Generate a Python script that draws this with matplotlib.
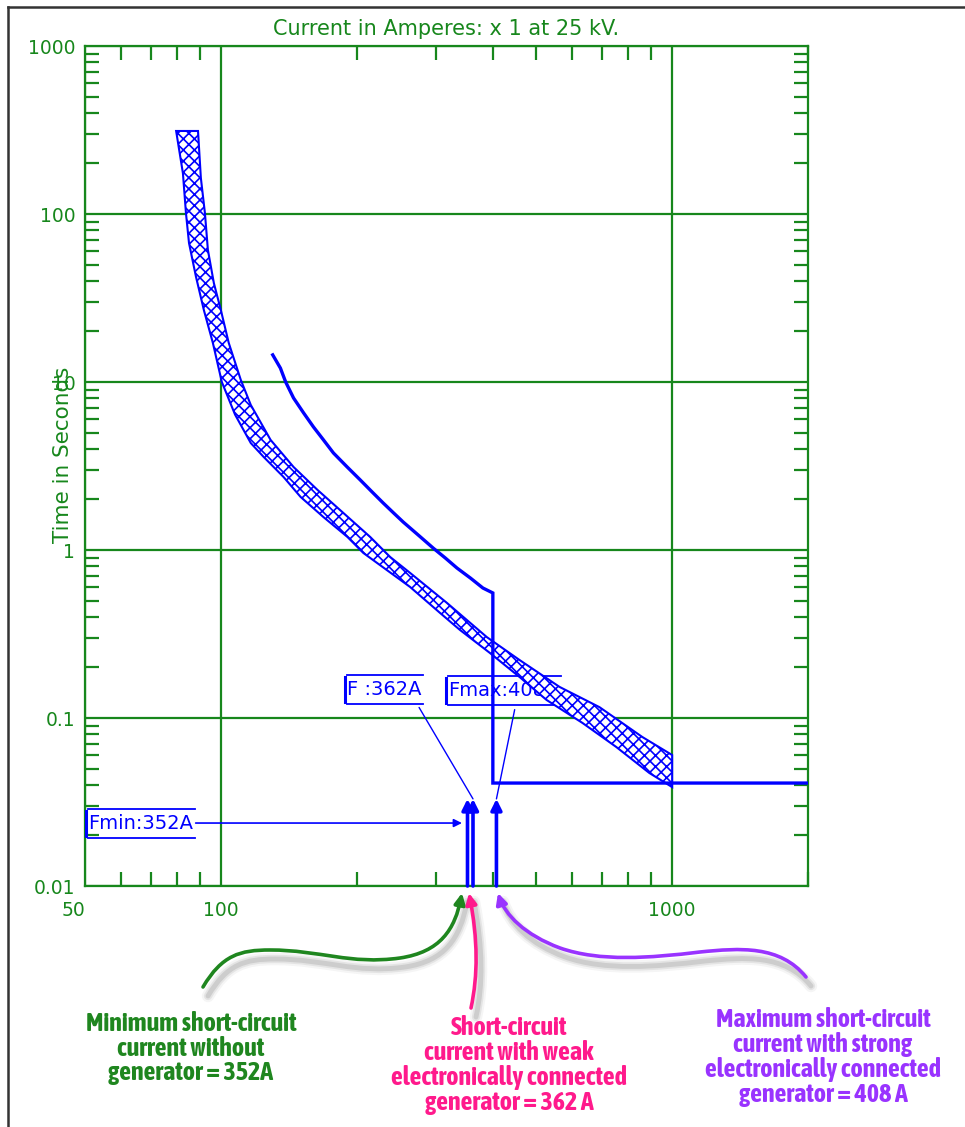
import numpy as np
import matplotlib
matplotlib.use('Agg')
import matplotlib.pyplot as plt
from matplotlib import font_manager as fm
from matplotlib.text import Text
from matplotlib.path import Path
from matplotlib.patches import FancyArrowPatch, Polygon, PathPatch
from matplotlib.lines import Line2D
from matplotlib.ticker import LogLocator, FixedLocator, FixedFormatter, NullFormatter

# Fuse band, upper (total clearing) edge: current [A], time [s]
band_upper_amps = [89, 90.3, 92.2, 93.6, 96.5, 100, 104.1, 110.7, 116.5, 128.9, 144.9, 163.7,
                   186.9, 214.3, 237.3, 262.7, 317, 388.5, 459.5, 563.3, 690.3, 858.7, 1000]
band_upper_secs = [312, 164, 101, 61.1, 38.8, 26.8, 17.1, 10.3, 7.3, 4.52, 3.12, 2.28,
                   1.66, 1.195, 0.908, 0.730, 0.484, 0.303, 0.221, 0.153, 0.116, 0.0771, 0.0602]

# Fuse band, lower (minimum melt) edge
band_lower_amps = [79.6, 82.4, 83.7, 85.0, 88.1, 91.7, 96.0, 100.5, 107.5, 116.5, 124.4, 137.7,
                   150.2, 168.8, 190.8, 206.9, 262.7, 306, 338.8, 394.5, 459.5, 527, 633, 752,
                   889.8, 1000]
band_lower_secs = [312, 175, 101, 67.2, 42.2, 26.8, 17.1, 10.0, 6.4, 4.33, 3.58, 2.72,
                   2.07, 1.57, 1.195, 0.96, 0.602, 0.422, 0.334, 0.244, 0.175, 0.128, 0.0934,
                   0.0672, 0.0471, 0.0388]

# Recloser / relay curve
rec_amps = [130.3, 135.5, 139.2, 144.9, 152.5, 160.4, 168.5, 177.6, 190.5, 203.7, 216.2,
            228.9, 241.5, 253.5, 274.5, 295.3, 314.5, 333.6, 357.5, 380.7, 400.6, 400.6, 2000]
rec_secs = [14.5, 12.1, 10.0, 8.03, 6.55, 5.40, 4.55, 3.78, 3.12, 2.61, 2.22,
            1.905, 1.66, 1.468, 1.22, 1.028, 0.895, 0.781, 0.68, 0.594, 0.555, 0.041, 0.041]

# Fault currents
fault_labels = ['Fmin:352A', 'F :362A', 'Fmax:408A']
fault_amps = [352, 362, 408]
fault_arrow_top = 0.033
fmin_arrow_time = 0.0237

# Axis ticks
x_ticks = [50, 100, 1000]
x_ticklabels = ['50', '100', '1000']
y_ticks = [0.01, 0.1, 1, 10, 100, 1000]
y_ticklabels = ['0.01', '0.1', '1', '10', '100', '1000']

# Notes under the chart
note_texts = ['Minimum short-circuit\ncurrent without\ngenerator = 352A',
              'Short-circuit\ncurrent with weak\nelectronically connected\ngenerator = 362 A',
              'Maximum short-circuit\ncurrent with strong\nelectronically connected\ngenerator = 408 A']
note_colors = ['#1f861f', '#ff1a8c', '#9933ff']

GREEN = '#17871c'
BLUE = '#0000ff'
W, H = 965, 1127

fig = plt.figure(figsize=(W / 100, H / 100), dpi=100)
fig.patch.set_facecolor('white')


def px(x, y):
    # pixel coords (y down) -> figure fraction
    return x / W, 1 - y / H


ax = fig.add_axes([85 / W, 1 - 886 / H, (808 - 85) / W, (886 - 46) / H])
ax.set_xscale('log')
ax.set_yscale('log')
ax.set_xlim(50, 2000)
ax.set_ylim(0.01, 1000)

for s in ax.spines.values():
    s.set_color(GREEN)
    s.set_linewidth(1.6)

ax.xaxis.set_major_locator(FixedLocator(x_ticks))
ax.xaxis.set_major_formatter(FixedFormatter(x_ticklabels))
ax.yaxis.set_major_locator(FixedLocator(y_ticks))
ax.yaxis.set_major_formatter(FixedFormatter(y_ticklabels))
ax.xaxis.set_minor_locator(LogLocator(base=10, subs=np.arange(2, 10)))
ax.yaxis.set_minor_locator(LogLocator(base=10, subs=np.arange(2, 10)))
ax.xaxis.set_minor_formatter(NullFormatter())
ax.yaxis.set_minor_formatter(NullFormatter())

ax.tick_params(which='both', direction='in', top=True, right=True, color=GREEN,
               labelcolor=GREEN, labelsize=13.5)
ax.tick_params(which='minor', length=10, width=1.6)
ax.tick_params(which='major', length=0)
ax.tick_params(axis='y', pad=7)
ax.tick_params(axis='x', pad=11)
ax.grid(which='major', color=GREEN, lw=1.6)
ax.set_axisbelow(True)
# the "50" label sits a bit left of the axis corner
ax.get_xticklabels()[0].set_horizontalalignment('right')

ax.text(0.5, (886 - 29) / 840, 'Current in Amperes: x 1 at 25 kV.', transform=ax.transAxes,
        ha='center', va='center', color=GREEN, fontsize=15)
fig.text(*px(63, 455), 'Time in Seconds', rotation=90, ha='center', va='center',
         color=GREEN, fontsize=15.5)

# fuse band
band_x = band_upper_amps + band_lower_amps[::-1]
band_y = band_upper_secs + band_lower_secs[::-1]
plt.rcParams['hatch.linewidth'] = 1.2
band = Polygon(np.column_stack([band_x, band_y]), closed=True, facecolor='white',
               edgecolor=BLUE, hatch='xxx', lw=1.5, zorder=4)
ax.add_patch(band)

# recloser curve
ax.plot(rec_amps, rec_secs, color=BLUE, lw=2.4, zorder=5, solid_joinstyle='miter')

# fault arrows
for amps in fault_amps:
    ax.annotate('', xy=(amps, fault_arrow_top), xytext=(amps, 0.01),
                arrowprops=dict(arrowstyle='-|>', color=BLUE, lw=2.6, mutation_scale=16,
                                shrinkA=0, shrinkB=0), zorder=5)

# labels with leaders
label_font = dict(fontsize=14, color=BLUE, family='DejaVu Sans')
t_min = ax.annotate(fault_labels[0], xy=(fault_amps[0], fmin_arrow_time),
                    xytext=(0.004, fmin_arrow_time), textcoords=('axes fraction', 'data'),
                    ha='left', va='center', zorder=3, **label_font,
                    arrowprops=dict(arrowstyle='-|>', color=BLUE, lw=1.2, mutation_scale=12,
                                    shrinkA=0, shrinkB=4, relpos=(1, 0.5)))
t_mid = ax.annotate(fault_labels[1], xy=(fault_amps[1], fault_arrow_top),
                    xytext=(-64, 79), textcoords='offset points',
                    ha='center', va='center', zorder=3, **label_font,
                    arrowprops=dict(arrowstyle='-', color=BLUE, lw=1.0,
                                    shrinkA=5, shrinkB=0, relpos=(0.9, 0)))
t_max = ax.annotate(fault_labels[2], xy=(fault_amps[2], fault_arrow_top),
                    xytext=(5, 78), textcoords='offset points',
                    ha='center', va='center', zorder=3, **label_font,
                    arrowprops=dict(arrowstyle='-', color=BLUE, lw=1.0,
                                    shrinkA=5, shrinkB=0, relpos=(0.62, 0)))

fig.canvas.draw()
renderer = fig.canvas.get_renderer()
inv = ax.transAxes.inverted()
for t in [t_min, t_mid, t_max]:
    bb = Text.get_window_extent(t, renderer)
    x0, x1 = bb.x0, bb.x1 + 2
    y0, y1 = bb.y0 - 5, bb.y1 + 5
    for xs, ys, lw in [([x0, x1], [y1, y1], 1.3), ([x0, x1], [y0, y0], 1.3),
                       ([x0 - 2, x0 - 2], [y0 + 2, y1 - 2], 2.2)]:
        pts = inv.transform(np.column_stack([xs, ys]))
        ax.add_line(Line2D(pts[:, 0], pts[:, 1], transform=ax.transAxes, color=BLUE,
                           lw=lw, zorder=3, clip_on=False))

# curved callouts below the chart
curves = [
    ([(203, 987), (222, 955), (240, 950), (270, 950), (320, 950), (350, 965), (400, 958),
      (440, 952), (455, 930), (462, 893)], note_colors[0]),
    ([(471, 1008), (478, 975), (478, 940), (469, 893)], note_colors[1]),
    ([(806, 977), (780, 945), (740, 948), (700, 952), (650, 958), (600, 962), (560, 948),
      (525, 935), (505, 915), (498, 893)], note_colors[2]),
]
for pts, col in curves:
    codes = [Path.MOVETO] + [Path.CURVE4] * (len(pts) - 1)
    for lw, a in [(9, 0.06), (6, 0.10), (3.5, 0.16)]:
        sh = Path([px(x + 5, y + 9) for x, y in pts], codes)
        fig.add_artist(PathPatch(sh, transform=fig.transFigure, fill=False,
                                 edgecolor='#555555', lw=lw, alpha=a, capstyle='round'))
    path = Path([px(x, y) for x, y in pts], codes)
    fig.add_artist(FancyArrowPatch(path=path, transform=fig.transFigure, arrowstyle='-|>',
                                   mutation_scale=16, lw=2.6, color=col,
                                   shrinkA=0, shrinkB=0))


# pick a narrow bold face for the notes
def weight_num(w):
    return w if isinstance(w, int) else fm.weight_dict.get(w, 400)


narrow = [f for f in fm.fontManager.ttflist if 'Narrow' in f.name or 'Condensed' in f.name]
narrow_bold = [f for f in narrow if weight_num(f.weight) >= 600]
if narrow_bold:
    note_font = dict(family=sorted(f.name for f in narrow_bold)[0], fontweight='bold')
elif narrow:
    note_font = dict(family=sorted(f.name for f in narrow)[0], fontweight='bold')
else:
    note_font = dict(family='Roboto', fontweight='bold')

# widest line widths in the reference, pixels
note_widths = [238, 272, 274]
note_centres = [(191, 1048), (509, 1065), (823, 1057)]
for (cx, cy), txt, col, wpx in zip(note_centres, note_texts, note_colors, note_widths):
    probe = [fig.text(0, 0, line, fontsize=17, **note_font) for line in txt.split('\n')]
    wid = max(p.get_window_extent(renderer).width for p in probe)
    for p in probe:
        p.remove()
    size = min(17 * wpx / wid, 18.8)
    fig.text(*px(cx, cy), txt, ha='center', va='center', color=col, fontsize=size,
             linespacing=26 / (size * 100 / 72), multialignment='center', **note_font)

# outer frame
fig.add_artist(Line2D([8 / W, 8 / W], [0, 1 - 7 / H], transform=fig.transFigure,
                      color='#333333', lw=1.8))
fig.add_artist(Line2D([8 / W, 1], [1 - 7 / H, 1 - 7 / H], transform=fig.transFigure,
                      color='#333333', lw=1.8))

fig.savefig('out.png', dpi=100)
